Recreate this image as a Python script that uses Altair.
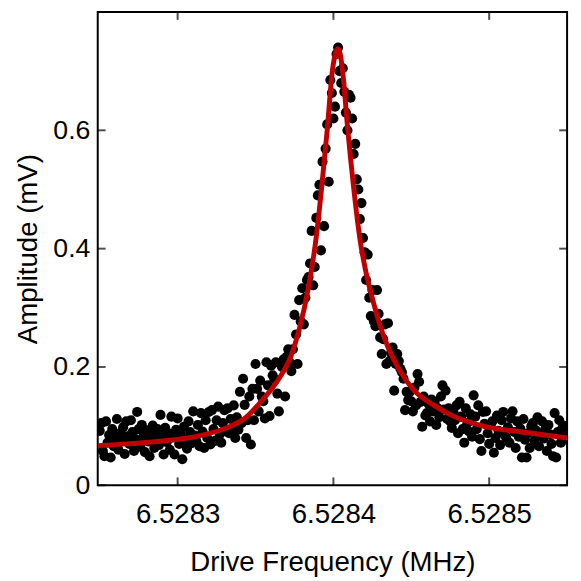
import altair as alt
import pandas as pd

# Sweep: start frequency (MHz) and step (MHz) of the measured points
sweep_start_mhz = 6.52825
sweep_step_mhz = 1e-6

# Measured amplitude (mV), one value per sweep step
amp_mv = [
    0.092,0.105,0.058,0.049,0.108,0.072,0.085,0.047,0.095,0.066,
    0.080,0.112,0.060,0.088,0.075,0.098,0.053,0.108,0.083,0.070,
    0.110,0.090,0.058,0.078,0.124,0.095,0.065,0.102,0.082,0.056,
    0.093,0.074,0.049,0.087,0.101,0.063,0.079,0.095,0.068,0.119,
    0.085,0.052,0.097,0.073,0.088,0.060,0.116,0.081,0.052,0.094,
    0.113,0.070,0.086,0.044,0.099,0.077,0.062,0.108,0.090,0.071,
    0.125,0.084,0.075,0.102,0.066,0.122,0.091,0.063,0.110,0.080,
    0.124,0.069,0.127,0.095,0.075,0.110,0.133,0.086,0.072,0.105,
    0.127,0.092,0.130,0.088,0.112,0.094,0.135,0.080,0.115,0.094,
    0.158,0.105,0.180,0.136,0.080,0.110,0.150,0.069,0.163,0.110,
    0.205,0.163,0.125,0.177,0.150,0.142,0.113,0.208,0.169,0.117,
    0.202,0.186,0.180,0.208,0.155,0.125,0.205,0.200,0.213,0.150,
    0.217,0.230,0.208,0.193,0.230,
    0.288,0.255,0.205,0.313,0.277,0.333,0.272,0.317,0.347,0.352,
    0.375,0.430,0.338,0.369,0.452,0.490,0.508,0.397,0.547,0.438,
    0.569,0.610,0.513,0.685,0.663,0.620,0.640,0.729,0.740,
    0.700,0.680,0.705,0.665,0.630,0.600,0.660,0.655,0.620,0.560,
    0.577,0.517,0.500,0.450,0.477,0.418,0.394,0.347,0.390,0.317,
    0.286,0.330,0.277,0.269,0.330,0.290,0.250,0.222,0.247,0.272,
    0.205,0.274,0.210,0.224,0.233,0.160,0.205,0.222,0.210,0.197,
    0.191,0.180,0.127,0.158,0.144,0.158,0.142,
    0.125,0.165,0.135,0.188,0.175,0.141,0.099,0.150,0.118,0.122,
    0.138,0.108,0.145,0.125,0.141,0.102,0.130,0.115,0.150,0.169,
    0.128,0.160,0.112,0.130,0.108,0.097,0.125,0.110,0.135,0.088,
    0.141,0.116,0.095,0.072,0.130,0.105,0.091,0.120,0.082,0.152,
    0.116,0.095,0.135,0.078,0.058,0.124,0.104,0.125,0.088,0.070,
    0.102,0.108,0.055,0.080,0.118,0.092,0.068,0.110,0.124,0.085,
    0.080,0.098,0.072,0.113,0.125,0.090,0.063,0.108,0.082,0.096,
    0.047,0.112,0.077,0.047,0.088,0.063,0.100,0.105,0.075,0.093,
    0.115,0.066,0.085,0.108,0.079,0.095,0.058,0.102,0.086,0.070,
    0.049,0.122,0.047,0.090,0.110,0.072,0.097,0.083,0.100,0.077,
]

# Fit curve: offset from sweep start (Hz) and amplitude (mV)
fit_offset_hz = [-1.3, 18, 37, 63, 84, 94, 104, 115, 123, 128, 134, 139, 142.5,
                 146, 149.3, 151.3, 152.8, 154.4, 156.3, 158.9, 162.7, 167.1,
                 170.9, 174.7, 179.7, 184.8, 192.4, 201.9, 214.6, 225.3, 246.2,
                 271.5, 300]
fit_amp_mv = [0.067, 0.070, 0.074, 0.083, 0.100, 0.115, 0.143, 0.180, 0.220,
              0.263, 0.335, 0.420, 0.505, 0.600, 0.700, 0.730, 0.738, 0.728,
              0.690, 0.610, 0.510, 0.415, 0.360, 0.319, 0.272, 0.235, 0.195,
              0.160, 0.135, 0.119, 0.100, 0.090, 0.080]

x_ticks = [6.5283, 6.5284, 6.5285]
y_ticks = [0, 0.2, 0.4, 0.6]
x_domain = [6.5282487, 6.52855]
y_domain = [0, 0.8]

W, H = 476, 480
FONT = "Liberation Sans"
RED = "#c00000"

pts = pd.DataFrame({
    "freq": [sweep_start_mhz + i * sweep_step_mhz for i in range(len(amp_mv))],
    "amp": amp_mv,
})
fit = pd.DataFrame({
    "freq": [sweep_start_mhz + o * 1e-6 for o in fit_offset_hz],
    "amp": fit_amp_mv,
})
xt = pd.DataFrame({"freq": x_ticks})
yt = pd.DataFrame({"amp": y_ticks})

xscale = alt.Scale(domain=x_domain, nice=False, zero=False)
yscale = alt.Scale(domain=y_domain, nice=False)

xaxis = alt.Axis(values=x_ticks, format=".4f", title="Drive Frequency (MHz)",
                 domain=False, ticks=False, grid=False, labelPadding=16,
                 labelFontSize=28, labelFont=FONT, labelColor="black",
                 titleFont=FONT, titleFontSize=28, titleFontWeight="normal",
                 titleColor="black", titleBaseline="alphabetic", titleY=86)
yaxis = alt.Axis(values=y_ticks, format="~g", title="Amplitude (mV)",
                 domain=False, ticks=False, grid=False, labelPadding=8,
                 labelFontSize=27, labelFont=FONT, labelColor="black",
                 titleFont=FONT, titleFontSize=28, titleFontWeight="normal",
                 titleColor="black", titleBaseline="alphabetic", titleX=-62)

points = alt.Chart(pts).mark_circle(size=105, color="black", opacity=1, clip=True).encode(
    x=alt.X("freq:Q", scale=xscale, axis=xaxis),
    y=alt.Y("amp:Q", scale=yscale, axis=yaxis),
)
line = alt.Chart(fit).mark_line(color=RED, strokeWidth=5, interpolate="monotone", clip=True).encode(
    x=alt.X("freq:Q", scale=xscale),
    y=alt.Y("amp:Q", scale=yscale),
)
xt_bottom = alt.Chart(xt).mark_tick(orient="vertical", size=8, thickness=2, color="black").encode(
    x=alt.X("freq:Q", scale=xscale), y=alt.value(H - 4))
xt_top = alt.Chart(xt).mark_tick(orient="vertical", size=8, thickness=2, color="black").encode(
    x=alt.X("freq:Q", scale=xscale), y=alt.value(4))
yt_left = alt.Chart(yt).mark_tick(orient="horizontal", size=8, thickness=2, color="black").encode(
    y=alt.Y("amp:Q", scale=yscale), x=alt.value(4))
yt_right = alt.Chart(yt).mark_tick(orient="horizontal", size=8, thickness=2, color="black").encode(
    y=alt.Y("amp:Q", scale=yscale), x=alt.value(W - 4))

chart = alt.layer(points, line, xt_bottom, xt_top, yt_left, yt_right).properties(
    width=W, height=H,
    autosize=alt.AutoSizeParams(type="none"),
    padding={"left": 91, "top": 0, "right": 6, "bottom": 92},
    background="white",
).configure_view(stroke="black", strokeWidth=2)

chart.save("out.html", embed_options={"renderer": "svg", "actions": False})
